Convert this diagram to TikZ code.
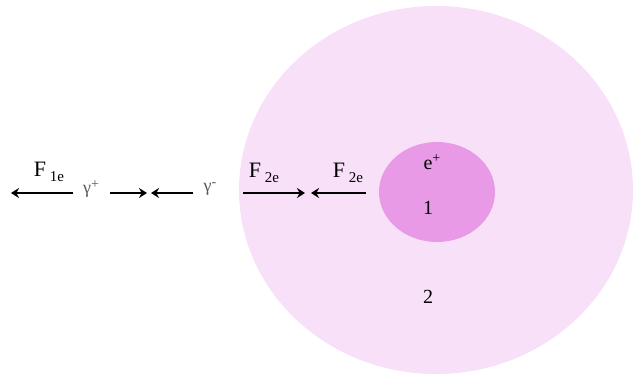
\documentclass[tikz,border=0pt]{standalone}
\usepackage{fontspec}
\setmainfont{Liberation Serif}
\usetikzlibrary{arrows.meta, positioning, shapes.geometric}
\definecolor{shellpink}{HTML}{F8E0F8}
\definecolor{corepink}{HTML}{E89AE6}
\newcommand{\lowsub}[1]{\raisebox{-0.45ex}{\fontsize{15}{15}\selectfont #1}}
\newcommand{\highsup}[1]{\raisebox{0.7ex}{\fontsize{14}{14}\selectfont #1}}

\begin{document}
\begin{tikzpicture}[x=1pt, y=-1pt,
    force/.style={-{Stealth[length=8pt, width=10pt]}, line width=1.5pt},
    lbl/.style={font=\fontsize{22}{24}\selectfont, inner sep=0pt},
    gam/.style={font=\fontsize{18}{20}\selectfont, text=black!65, inner sep=0pt},
    num/.style={font=\fontsize{20}{22}\selectfont, inner sep=0pt},
]
\useasboundingbox (0,0) rectangle (635,375);
% regions
\node[ellipse, fill=shellpink, minimum width=394pt, minimum height=368pt] (shell) at (436,190) {};
\node[ellipse, fill=corepink, minimum width=116pt, minimum height=100pt] (core) at (437,192) {};
\node[num] (plus) at (432,162) {e\highsup{+}};
\node[num] (one) at (428,208) {1};
\node[num] (two) at (428,297) {2};

% force arrows
\coordinate (a1) at (73,193);  \coordinate (b1) at (11,193);
\coordinate (a2) at (110,193); \coordinate (b2) at (147,193);
\coordinate (a3) at (193,193); \coordinate (b3) at (151,193);
\coordinate (a4) at (243,193); \coordinate (b4) at (305,193);
\coordinate (a5) at (366,193); \coordinate (b5) at (311,193);
\draw[force] (a1) -- (b1);
\draw[force] (a2) -- (b2);
\draw[force] (a3) -- (b3);
\draw[force] (a4) -- (b4);
\draw[force] (a5) -- (b5);

\node[lbl] (f1) at (49,172) {F\,\lowsub{1e}};
\node[lbl] (f2) at (264,173) {F\,\lowsub{2e}};
\node[lbl] (f3) at (348,173) {F\,\lowsub{2e}};
\node[gam] (gp) at (91,189) {γ\highsup{+}};
\node[gam] (gm) at (210,189) {γ\highsup{-}};
\end{tikzpicture}
\end{document}
